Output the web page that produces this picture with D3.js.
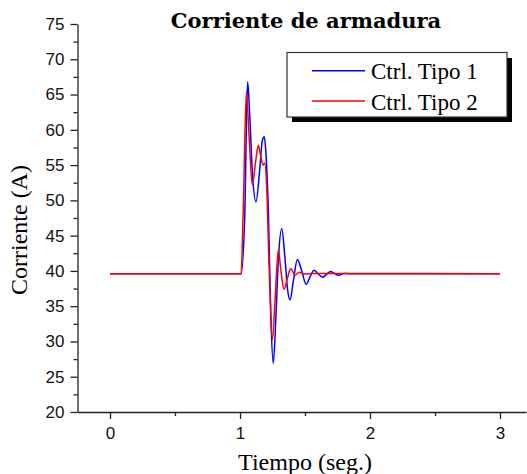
<!DOCTYPE html>
<html>
<head>
<meta charset="utf-8">
<script src="https://cdn.jsdelivr.net/npm/d3@7"></script>
<style>
  body { margin: 0; background: #fff; }
</style>
</head>
<body>
<div id="chart"></div>
<script>
const W = 527, H = 474;

// data: time (s), current (A)
const tipo1T = [0, 1.0, 1.008, 1.038, 1.05, 1.059, 1.075, 1.095, 1.123, 1.15, 1.172, 1.187, 1.2, 1.218, 1.238, 1.256, 1.275, 1.295, 1.321, 1.345, 1.365, 1.385, 1.41, 1.441, 1.475, 1.508, 1.54, 1.569, 1.6, 1.636, 1.665, 1.697, 1.73, 1.76, 1.8, 1.85, 3.0];
const tipo1I = [39.6, 39.6, 39.6, 48.6, 62, 66.8, 62, 54, 49.8, 54, 58.5, 59.0, 56.5, 48.6, 33, 26.9, 33, 41.5, 46.0, 42, 37.5, 35.9, 38.5, 41.6, 40, 38.1, 39.2, 40.1, 39.6, 39.1, 39.5, 39.9, 39.6, 39.4, 39.65, 39.6, 39.6];
const tipo2T = [0, 1.0, 1.008, 1.025, 1.049, 1.07, 1.095, 1.12, 1.141, 1.162, 1.179, 1.19, 1.205, 1.225, 1.249, 1.27, 1.295, 1.315, 1.338, 1.365, 1.39, 1.423, 1.455, 1.5, 1.55, 3.0];
const tipo2I = [39.6, 39.6, 39.6, 48.6, 65.4, 59, 52.2, 55.5, 57.8, 56, 55.0, 55.3, 52, 40, 30.2, 36, 43.0, 40, 37.4, 39, 40.35, 39.4, 39.8, 39.55, 39.65, 39.6];

const xMajor = [0, 1, 2, 3];
const xMinor = [0.5, 1.5, 2.5];
const yMajor = [20, 25, 30, 35, 40, 45, 50, 55, 60, 65, 70, 75];
const yMinor = [22.5, 27.5, 32.5, 37.5, 42.5, 47.5, 52.5, 57.5, 62.5, 67.5, 72.5];

const seriesNames = ["Ctrl. Tipo 1", "Ctrl. Tipo 2"];
const seriesColors = ["#0000ff", "#ff0000"];

const svg = d3.select("#chart").append("svg")
  .attr("width", W).attr("height", H);

const x = d3.scaleLinear().domain([-0.25, 3.2]).range([77.5, 526]);
const y = d3.scaleLinear().domain([20, 75]).range([412, 24]);

const serif = "'Liberation Serif', 'Times New Roman', serif";
const sans = "'Liberation Sans', Arial, sans-serif";

// axes
svg.append("g")
  .attr("transform", `translate(0,${y(20)})`)
  .call(d3.axisBottom(x).tickValues(xMajor).tickSize(7).tickSizeOuter(0).tickPadding(8).tickFormat(d3.format("d")));
svg.append("g")
  .attr("transform", `translate(0,${y(20)})`)
  .call(d3.axisBottom(x).tickValues(xMinor).tickSize(4).tickSizeOuter(0).tickFormat(""))
  .select(".domain").remove();

svg.append("g")
  .attr("transform", `translate(${x(-0.25)},0)`)
  .call(d3.axisLeft(y).tickValues(yMajor).tickSize(7).tickSizeOuter(0).tickPadding(6));
svg.append("g")
  .attr("transform", `translate(${x(-0.25)},0)`)
  .call(d3.axisLeft(y).tickValues(yMinor).tickSize(4).tickSizeOuter(0).tickFormat(""))
  .select(".domain").remove();

svg.selectAll(".tick text")
  .style("font-family", sans).style("font-size", "17px").attr("fill", "#111");
svg.selectAll(".domain, .tick line").attr("stroke", "#222").attr("stroke-width", 1.3);

// lines
const line = d3.line().x(d => x(d[0])).y(d => y(d[1])).curve(d3.curveMonotoneX);
const series = [d3.zip(tipo1T, tipo1I), d3.zip(tipo2T, tipo2I)];
series.forEach((s, i) => {
  svg.append("path")
    .datum(s)
    .attr("fill", "none")
    .attr("stroke", seriesColors[i])
    .attr("stroke-width", 1.5)
    .attr("d", line);
});

// title and axis labels
svg.append("text")
  .attr("x", 306).attr("y", 28)
  .attr("text-anchor", "middle")
  .style("font-family", "'DejaVu Serif', serif").style("font-weight", "bold").style("font-size", "21px")
  .text("Corriente de armadura");

svg.append("text")
  .attr("x", 305).attr("y", 470)
  .attr("text-anchor", "middle")
  .style("font-family", serif).style("font-size", "24px")
  .text("Tiempo (seg.)");

svg.append("text")
  .attr("transform", "translate(27,230) rotate(-90)")
  .attr("text-anchor", "middle")
  .style("font-family", serif).style("font-size", "24px")
  .text("Corriente (A)");

// legend
const lg = svg.append("g");
lg.append("rect").attr("x", 292).attr("y", 58).attr("width", 220).attr("height", 64).attr("fill", "#000");
lg.append("rect").attr("x", 287).attr("y", 52.5).attr("width", 220).attr("height", 64.5)
  .attr("fill", "#fff").attr("stroke", "#333").attr("stroke-width", 1.2);
seriesNames.forEach((name, i) => {
  const yy = 70.7 + i * 30.3;
  lg.append("line").attr("x1", 312).attr("x2", 365).attr("y1", yy).attr("y2", yy)
    .attr("stroke", seriesColors[i]).attr("stroke-width", 1.4);
  lg.append("text").attr("x", 371).attr("y", yy + 8.6)
    .style("font-family", serif).style("font-size", "23px")
    .text(name);
});
</script>
</body>
</html>
